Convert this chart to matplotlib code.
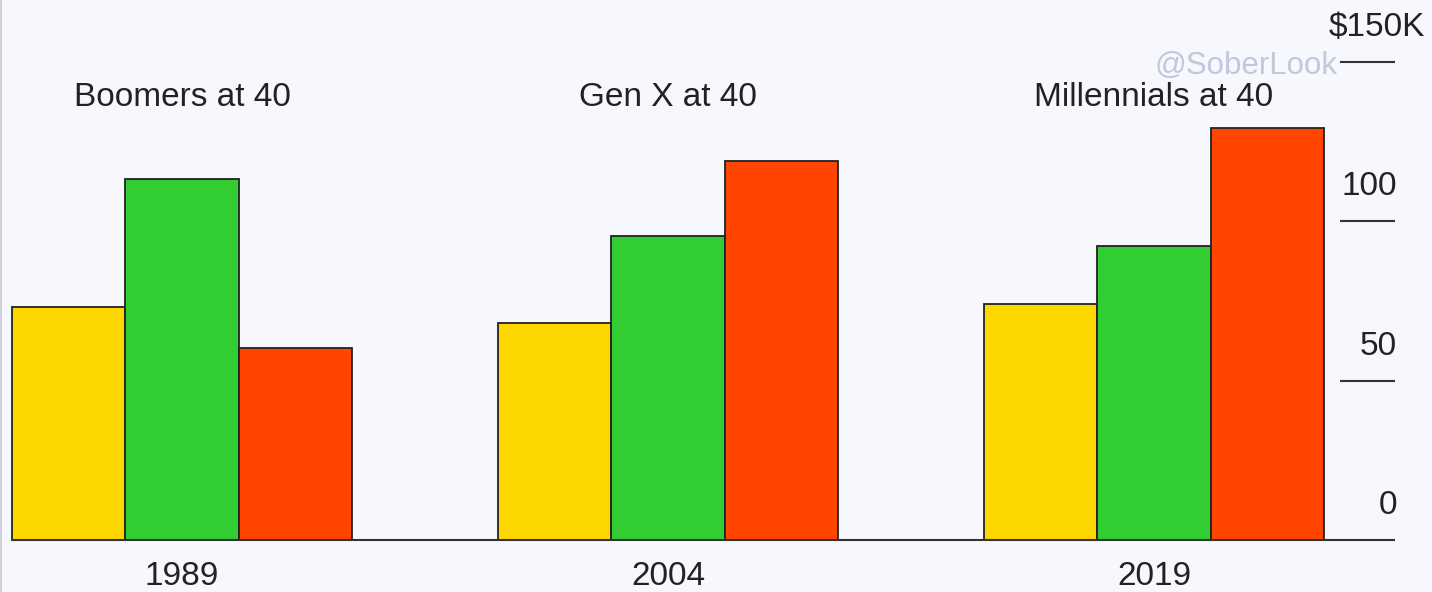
import matplotlib
matplotlib.use("Agg")
import matplotlib.pyplot as plt
import numpy as np

plt.rcParams['font.family'] = ['Liberation Sans', 'DejaVu Sans']

years = ["1989", "2004", "2019"]
generations = ["Boomers at 40", "Gen X at 40", "Millennials at 40"]
yellow_vals = [73.0, 68.2, 73.9]
green_vals = [113.2, 95.3, 92.1]
red_vals = [60.4, 118.9, 129.2]
yticks = [0, 50, 100, 150]
ytick_labels = ["0", "50", "100", "$150K"]

bg = "#f7f8fd"
fig = plt.figure(figsize=(14.32, 5.92), dpi=100, facecolor=bg)
ax = fig.add_axes([0, 0, 1, 1])
ax.set_facecolor(bg)

px_per_x = 486.0
x0_px = 182.0
px_per_y = 3.187
y0_px = 540.0
ax.set_xlim((0 - x0_px) / px_per_x, (1432 - x0_px) / px_per_x)
ax.set_ylim((y0_px - 592) / px_per_y, y0_px / px_per_y)
ax.axis('off')

x = np.arange(len(years))
w = 113.5 / px_per_x
colors = ["#FFD700", "#32CD32", "#FF4500"]
for i, vals in enumerate([yellow_vals, green_vals, red_vals]):
    ax.bar(x + (i - 1) * w, vals, width=w, color=colors[i],
           edgecolor="#222222", linewidth=1.3, zorder=2)

xl = (12 - x0_px) / px_per_x
xr = (1395 - x0_px) / px_per_x
xt = (1340 - x0_px) / px_per_x
xr_top = (1425 - x0_px) / px_per_x
ax.plot([xl, xr], [0, 0], color="#333333", lw=1.5, zorder=3, solid_capstyle='butt')
for t, lab in zip(yticks, ytick_labels):
    if t > 0:
        ax.plot([xt, xr], [t, t], color="#333333", lw=1.5, zorder=3, solid_capstyle='butt')
    xpos = xr_top if lab.endswith("K") else (1397 - x0_px) / px_per_x
    ax.text(xpos, t + 6.0, lab, ha='right', va='bottom', fontsize=24, color="#222222")

for xi, yr, gen in zip(x, years, generations):
    ax.text(xi, -11.4, yr, ha='center', va='center', fontsize=24, color="#222222")
    ax.text(xi, 139, gen, ha='center', va='center', fontsize=24, color="#222222")

ax.text((1246 - x0_px) / px_per_x, (y0_px - 66) / px_per_y, "@SoberLook",
        ha='center', va='center', fontsize=22.5, color="#c3c6dc", zorder=4)

fig.add_artist(plt.Line2D([0.0007, 0.0007], [0, 1], color="#d0d0d8", lw=1.5))

fig.savefig("out.png", dpi=100, facecolor=bg)
